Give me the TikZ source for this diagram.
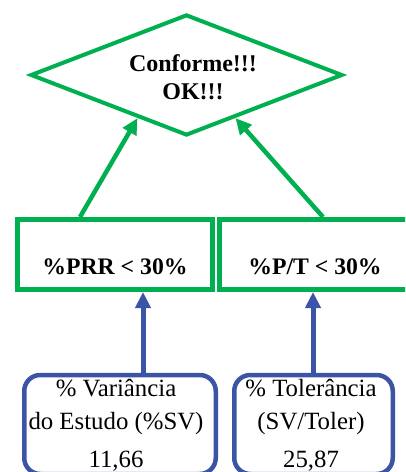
\documentclass[tikz,border=0pt]{standalone}
\usepackage{fontspec}
\setmainfont{Liberation Serif}
\usetikzlibrary{arrows.meta,shapes.geometric,calc}
\definecolor{okgreen}{RGB}{0,176,80}
\definecolor{boxblue}{RGB}{59,84,165}
\begin{document}
\begin{tikzpicture}[x=1pt,y=-1pt,
  dec/.style={diamond, draw=okgreen, line width=4pt, minimum width=312pt, minimum height=121pt, inner sep=0pt},
  cond/.style={rectangle, draw=okgreen, line width=5pt, minimum width=195pt, minimum height=70pt, inner sep=0pt},
  metric/.style={rectangle, draw=boxblue, line width=4.5pt, rounded corners=16pt, inner sep=0pt, minimum height=99pt},
  gtxt/.style={font=\fontsize{24}{28}\selectfont\bfseries, align=center, inner sep=0pt},
  btxt/.style={font=\fontsize{24.8}{33}\selectfont, align=center, inner sep=0pt},
  garrow/.style={draw=okgreen, line width=4.5pt, -{Triangle[length=16pt,width=15pt]}},
  barrow/.style={draw=boxblue, line width=5pt, -{Triangle[length=16pt,width=15pt]}}]
\useasboundingbox (0,0) rectangle (405,472);
\clip (0,0) rectangle (405,472);
% decision
\node[dec] (d) at (186.5,75) {};
\node[gtxt] (dt) at (193,77) {Conforme!!!\\OK!!!};
% condition boxes
\node[cond] (b1) at (115,254.5) {};
\node[cond] (b2) at (316.5,254.5) {};
\node[gtxt, anchor=base, font=\fontsize{23.7}{28}\selectfont\bfseries] (b1t) at (115,274) {\%PRR < 30\%};
\node[gtxt, anchor=base, font=\fontsize{23.7}{28}\selectfont\bfseries] (b2t) at (315,274) {\%P/T < 30\%};
% metric boxes
\node[metric, minimum width=191.5pt] (v1) at (120,424.5) {};
\node[metric, minimum width=158.5pt] (v2) at (313.5,424.5) {};
\node[btxt, anchor=north] (v1t) at (116,379.5) {\% Variância\\do Estudo (\%SV)\\[5pt]11,66};
\node[btxt, anchor=north] (v2t) at (311,379.5) {\% Tolerância\\(SV/Toler)\\[5pt]25,87};
% connector positions
\coordinate (xa) at (143,0);
\coordinate (xb) at (313,0);
\coordinate (sa) at (80,0);
\coordinate (sb) at (323,0);
\draw[barrow] (v1.north -| xa) -- (b1.south -| xa);
\draw[barrow] (v2.north -| xb) -- (b2.south -| xb);
\draw[garrow] (b1.north -| sa) -- ($(d.west)!0.69!(d.south)$);
\draw[garrow] (b2.north -| sb) -- ($(d.south)!0.31!(d.east)$);
\end{tikzpicture}
\end{document}
